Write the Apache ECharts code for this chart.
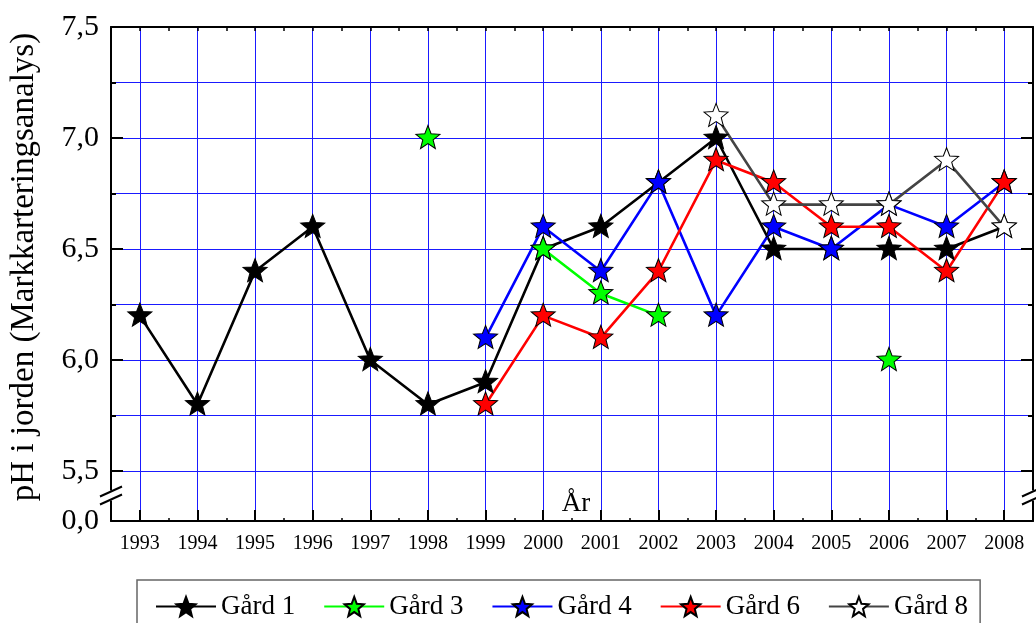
<!DOCTYPE html>
<html>
<head>
<meta charset="utf-8">
<script src="https://cdn.jsdelivr.net/npm/echarts@6/dist/echarts.min.js"></script>
<style>
html,body{margin:0;padding:0;background:#fff;}
#chart{width:1036px;height:623px;}
</style>
</head>
<body>
<div id="chart"></div>
<script>
const years = [1993,1994,1995,1996,1997,1998,1999,2000,2001,2002,2003,2004,2005,2006,2007,2008];
const gard1 = [6.2,5.8,6.4,6.6,6.0,5.8,5.9,6.5,6.6,6.8,7.0,6.5,6.5,6.5,6.5,6.6];
const gard3 = [null,null,null,null,null,7.0,null,6.5,6.3,6.2,null,null,null,6.0,null,null];
const gard4 = [null,null,null,null,null,null,6.1,6.6,6.4,6.8,6.2,6.6,6.5,6.7,6.6,6.8];
const gard6 = [null,null,null,null,null,null,5.8,6.2,6.1,6.4,6.9,6.8,6.6,6.6,6.4,6.8];
const gard8 = [null,null,null,null,null,null,null,null,null,null,7.1,6.7,6.7,6.7,6.9,6.6];
const seriesNames = ['Gård 1','Gård 3','Gård 4','Gård 6','Gård 8'];
const yMajorTicks = [5.5,6.0,6.5,7.0,7.5];
const yMinorTicks = [5.75,6.25,6.75,7.25];
const yGridValues = [5.5,5.75,6.0,6.25,6.5,6.75,7.0,7.25,7.5];
const yBottom = 5.275;   // broken axis: bottom of axis labelled 0,0
const yBottomLabel = '0,0';

const FONT = 'Liberation Serif';
const star = (function(){
  let p = [];
  for (let i = 0; i < 10; i++) {
    const r = i % 2 === 0 ? 10 : 4.3;
    const a = -Math.PI/2 + i*Math.PI/5;
    p.push((r*Math.cos(a)).toFixed(3) + ',' + (r*Math.sin(a)).toFixed(3));
  }
  return 'path://M' + p.join(' L') + ' Z';
})();

function toData(arr){ return years.map((y,i)=>[y, arr[i]==null ? '-' : arr[i]]); }

const halfYears = [];
for (let y = 1993; y <= 2008; y += 0.5) halfYears.push(y);
const halfOnly = halfYears.filter(v => v % 1 !== 0);

function mkSeries(name, arr, fill, lineColor){
  return {
    name: name, type: 'line', data: toData(arr),
    xAxisIndex: 0, yAxisIndex: 0,
    symbol: star, symbolSize: [24, 23], symbolOffset: [0, -1], showAllSymbol: true,
    connectNulls: false,
    lineStyle: {color: lineColor, width: 2.6},
    itemStyle: {color: fill, borderColor: '#000', borderWidth: 1},
    emphasis: {disabled: true}
  };
}

const chart = echarts.init(document.getElementById('chart'));
const gridColor = '#1a1aff';
const option = {
  animation: false,
  backgroundColor: '#fff',
  textStyle: {fontFamily: FONT},
  grid: {left: 110, right: 3, top: 27, bottom: 102},
  legend: {
    data: seriesNames, left: 137, top: 580, orient: 'horizontal',
    itemWidth: 60, itemHeight: 24, itemGap: 28,
    padding: [13, 12, 30, 18],
    borderColor: '#666', borderWidth: 1.5,
    selectedMode: false,
    textStyle: {fontFamily: FONT, fontSize: 27, color: '#000'}
  },
  xAxis: [
    {type: 'value', position: 'bottom', min: 1992.5, max: 2008.5,
     name: 'År', nameLocation: 'middle', nameGap: -4, nameMoveOverlap: false,
     nameTextStyle: {fontFamily: FONT, fontSize: 27, color: '#000', verticalAlign: 'bottom', padding: [0, 0, 0, 8]},
     axisLine: {show: true, lineStyle: {color: '#000', width: 2}},
     axisTick: {show: true, inside: true, length: 11, lineStyle: {color: '#000', width: 2}, customValues: years},
     axisLabel: {show: true, customValues: years, margin: 13, fontFamily: FONT, fontSize: 20, color: '#000', formatter: v => String(Math.round(v))},
     splitLine: {show: true, lineStyle: {color: gridColor, width: 1}}},
    {type: 'value', position: 'bottom', min: 1992.5, max: 2008.5,
     axisLine: {show: false},
     axisTick: {show: true, inside: true, length: 3, lineStyle: {color: '#000', width: 1.5}, customValues: halfOnly},
     axisLabel: {show: false}, splitLine: {show: false}},
    {type: 'value', position: 'top', min: 1992.5, max: 2008.5,
     axisLine: {show: true, lineStyle: {color: '#000', width: 2}},
     axisTick: {show: true, inside: true, length: 4, lineStyle: {color: '#000', width: 1.5}, customValues: halfYears},
     axisLabel: {show: false}, splitLine: {show: false}}
  ],
  yAxis: [
    {type: 'value', position: 'left', min: yBottom, max: 7.5,
     name: 'pH i jorden (Markkarteringsanalys)', nameLocation: 'middle', nameGap: 70, nameRotate: 90,
     nameTextStyle: {fontFamily: FONT, fontSize: 33, color: '#000', padding: [0, 0, 0, 14]},
     axisLine: {show: true, lineStyle: {color: '#000', width: 2}},
     axisTick: {show: true, inside: true, length: 12, lineStyle: {color: '#000', width: 2}, customValues: yMajorTicks},
     axisLabel: {show: true, customValues: [yBottom].concat(yMajorTicks), margin: 12, fontFamily: FONT, fontSize: 30, color: '#000',
       formatter: v => v < 5.4 ? yBottomLabel : v.toFixed(1).replace('.', ',')},
     splitLine: {show: false}},
    {type: 'value', position: 'left', min: yBottom, max: 7.5,
     axisLine: {show: false},
     axisTick: {show: true, inside: true, length: 5, lineStyle: {color: '#000', width: 2}, customValues: yMinorTicks},
     axisLabel: {show: false}, splitLine: {show: false}},
    {type: 'value', position: 'right', min: yBottom, max: 7.5,
     axisLine: {show: true, lineStyle: {color: '#000', width: 2}},
     axisTick: {show: true, inside: true, length: 12, lineStyle: {color: '#000', width: 2}, customValues: yMajorTicks},
     axisLabel: {show: false}, splitLine: {show: false}},
    {type: 'value', position: 'right', min: yBottom, max: 7.5,
     axisLine: {show: false},
     axisTick: {show: true, inside: true, length: 5, lineStyle: {color: '#000', width: 2}, customValues: yMinorTicks},
     axisLabel: {show: false}, splitLine: {show: false}},
    {type: 'value', position: 'left', min: yBottom, max: 7.5, z: 0,
     axisLine: {show: false},
     axisTick: {show: false, customValues: yGridValues},
     axisLabel: {show: false},
     splitLine: {show: true, lineStyle: {color: gridColor, width: 1}}}
  ],
  series: [
    mkSeries('Gård 1', gard1, '#000000', '#000000'),
    mkSeries('Gård 3', gard3, '#00ff00', '#00ff00'),
    mkSeries('Gård 4', gard4, '#0000ff', '#0000ff'),
    mkSeries('Gård 6', gard6, '#ff0000', '#ff0000'),
    mkSeries('Gård 8', gard8, '#ffffff', '#444444')
  ]
};
chart.setOption(option);

// axis break marks "//" on both vertical axes
(function(){
  const yMid = chart.convertToPixel({yAxisIndex: 0}, 5.39);
  const xl = chart.convertToPixel({xAxisIndex: 0}, 1992.5);
  const xr = chart.convertToPixel({xAxisIndex: 0}, 2008.5);
  const mk = (cx) => [-4, 4].map(d => ({
    type: 'line', silent: true, z: 100,
    shape: {x1: cx - 11, y1: yMid + d + 5, x2: cx + 11, y2: yMid + d - 5},
    style: {stroke: '#000', lineWidth: 2}
  }));
  const white = (cx) => ({type: 'rect', silent: true, z: 99,
    shape: {x: cx - 3, y: yMid - 5, width: 6, height: 10}, style: {fill: '#fff'}});
  chart.setOption({graphic: [white(xl), white(xr)].concat(mk(xl), mk(xr))});
})();
</script>
</body>
</html>
